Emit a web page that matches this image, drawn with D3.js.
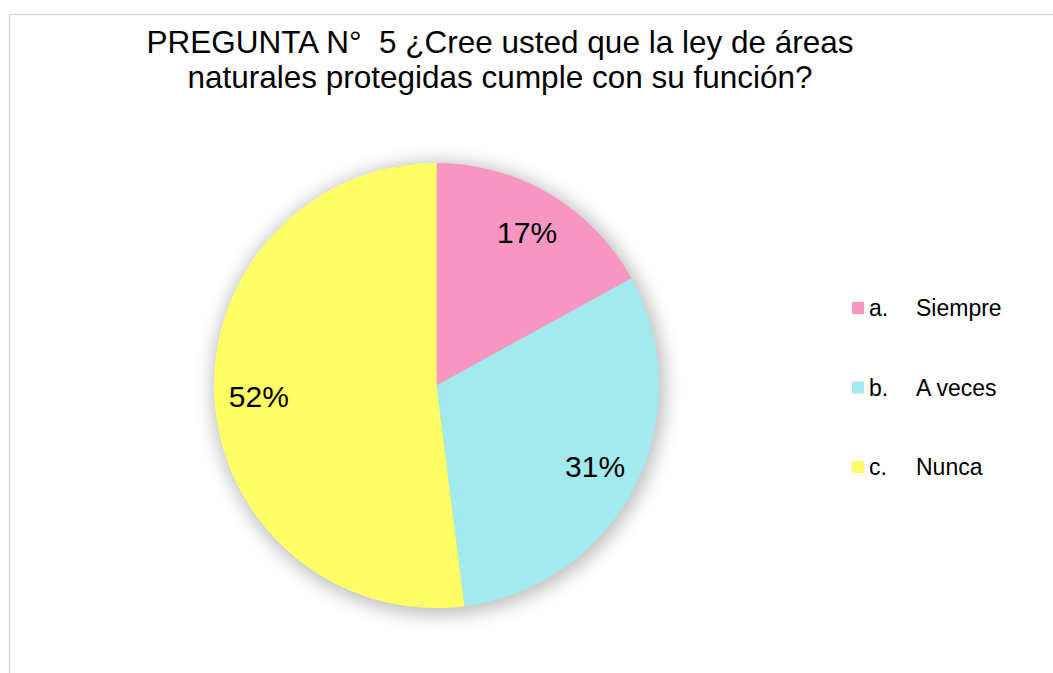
<!DOCTYPE html>
<html>
<head>
<meta charset="utf-8">
<script src="https://cdn.jsdelivr.net/npm/d3@7"></script>
<style>
  body { margin: 0; background: #fff; }
  svg { display: block; font-family: "Liberation Sans", Arial, sans-serif; }
</style>
</head>
<body>
<svg id="chart" width="1053" height="673"></svg>
<script>
// data
var categories = ["a.\tSiempre", "b.\tA veces", "c.\tNunca"];
var values = [17, 31, 52];
var colors = ["#F898C2", "#A3EAEF", "#FFFF66"];
var titleLines = ["PREGUNTA N°\u00a0\u00a05 ¿Cree usted que la ley de áreas", "naturales protegidas cumple con su función?"];

var svg = d3.select("#chart");
var width = 1053, height = 673;

// chart border (runs past the window on right/bottom)
svg.append("rect")
    .attr("x", 9.5).attr("y", 14.5)
    .attr("width", 1100).attr("height", 700)
    .attr("fill", "#fff")
    .attr("stroke", "#d9d9d9")
    .attr("stroke-width", 1.5);

// title
var title = svg.append("text")
    .attr("text-anchor", "middle")
    .attr("font-size", 31.5)
    .attr("fill", "#000");
titleLines.forEach(function (t, i) {
    title.append("tspan")
        .attr("x", 500)
        .attr("y", 53 + i * 35)
        .text(t);
});

var cx = 436.5, cy = 385.5, R = 222.5;

var defs = svg.append("defs");
var f = defs.append("filter").attr("id", "glow")
    .attr("x", "-30%").attr("y", "-30%").attr("width", "160%").attr("height", "160%");
f.append("feGaussianBlur").attr("stdDeviation", 9);

var g = svg.append("g").attr("transform", "translate(" + cx + "," + cy + ")");

// soft shadow behind the pie
g.append("circle")
    .attr("cx", 2).attr("cy", 3)
    .attr("r", R + 4)
    .attr("fill", "#000")
    .attr("opacity", 0.25)
    .attr("filter", "url(#glow)");

var pie = d3.pie().sort(null).value(function (d) { return d; });
var arc = d3.arc().innerRadius(0).outerRadius(R);
var labelArc = d3.arc().innerRadius(R * 0.8).outerRadius(R * 0.8);
var arcs = pie(values);

g.selectAll("path.slice")
    .data(arcs)
    .enter().append("path")
    .attr("class", "slice")
    .attr("d", arc)
    .attr("fill", function (d, i) { return colors[i]; });

g.selectAll("text.lbl")
    .data(arcs)
    .enter().append("text")
    .attr("class", "lbl")
    .attr("transform", function (d) { return "translate(" + labelArc.centroid(d) + ")"; })
    .attr("text-anchor", "middle")
    .attr("dy", "0.35em")
    .attr("font-size", 30)
    .attr("fill", "#000")
    .text(function (d) { return d.data + "%"; });

// legend
var legend = svg.append("g").attr("transform", "translate(852,302)");
var row = legend.selectAll("g")
    .data(categories)
    .enter().append("g")
    .attr("transform", function (d, i) { return "translate(0," + (i * 79.5) + ")"; });
row.append("rect")
    .attr("width", 12).attr("height", 12)
    .attr("fill", function (d, i) { return colors[i]; });
row.append("text")
    .attr("x", 17).attr("y", 6)
    .attr("dy", "0.35em")
    .attr("font-size", 23)
    .attr("fill", "#000")
    .text(function (d) { return d.split("\t")[0]; });
row.append("text")
    .attr("x", 64).attr("y", 6)
    .attr("dy", "0.35em")
    .attr("font-size", 23)
    .attr("fill", "#000")
    .text(function (d) { return d.split("\t")[1]; });
</script>
</body>
</html>
